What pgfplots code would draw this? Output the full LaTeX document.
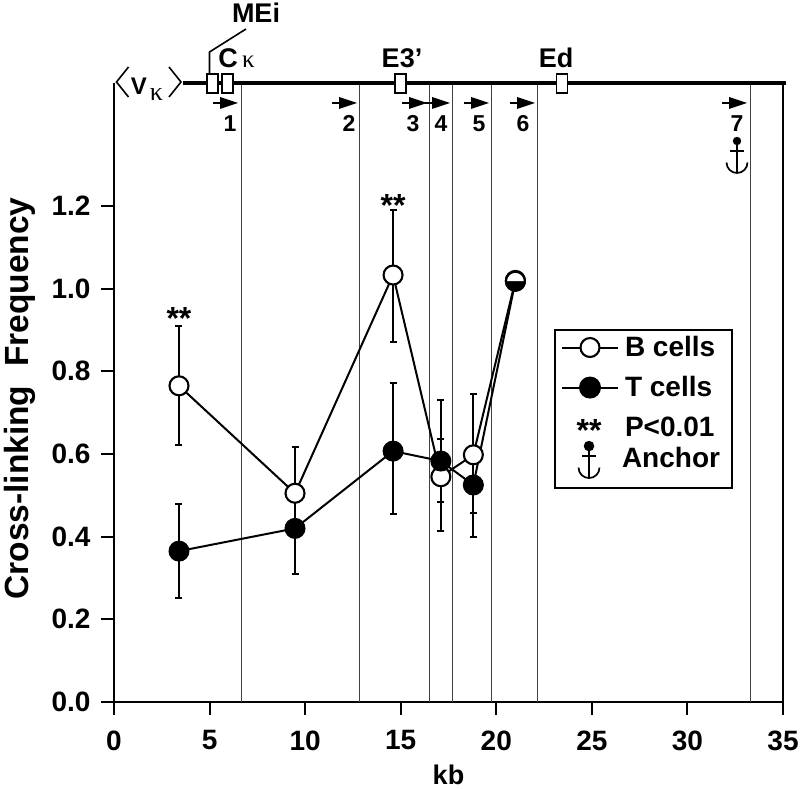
\documentclass[border=0pt]{standalone}
\usepackage{pgfplots}
\pgfplotsset{compat=1.18}
\usepackage{fontspec}
\setmainfont{Liberation Sans}
\newfontfamily\greek{Liberation Serif}
\newcommand\anchorsym[2]{% origin at dot centre; #1 = total drop, #2 = arc start
  \fill (0,0) circle (4.2pt);
  \draw[line width=1.7pt] (0,0) -- (0,-#1pt);
  \draw[line width=1.7pt] (-7pt,-10pt) -- (7pt,-10pt);
  \draw[line width=1.7pt] (-10.5pt,-#2pt) arc[start angle=180,end angle=360,radius=10.5pt];
}
\begin{document}
\begin{tikzpicture}[x=1pt,y=1pt,font=\bfseries]
\useasboundingbox (0,0) rectangle (800,789);
\begin{axis}[
  at={(114pt,87pt)},anchor=south west,
  scale only axis,width=669pt,height=619pt,
  xmin=0,xmax=35,ymin=0,ymax=1.4976,
  clip=false,
  axis x line*=bottom,
  axis y line*=left,
  axis line style={line width=2pt,-},
  tick style={line width=2pt,black},
  tick align=outside,
  major tick length=13pt,
  xtick={0,5,...,35},
  ytick={0,0.2,...,1.2},
  yticklabel style={/pgf/number format/fixed,/pgf/number format/fixed zerofill,/pgf/number format/precision=1,/pgf/number format/assume math mode=true,xshift=-7pt},
  xticklabel style={/pgf/number format/assume math mode=true,yshift=-12pt},
  tick label style={font=\fontsize{28}{28}\selectfont\bfseries},
  xlabel={kb},
  ylabel={Cross-linking\ \ Frequency},
  xlabel style={font=\fontsize{27}{27}\selectfont\bfseries,at={(axis cs:17.5,0)},anchor=north,yshift=-63pt,inner sep=0pt,text depth=0pt},
  ylabel style={font=\fontsize{33.5}{33.5}\selectfont\bfseries,at={(axis cs:0,0.734)},anchor=south,yshift=75pt},
  legend style={at={(axis cs:23.02,0.9025)},anchor=north west,draw=black,line width=2pt,
    font=\fontsize{28}{28}\selectfont\bfseries,inner xsep=6pt,inner ysep=7pt,
    row sep=18.5pt,
    nodes={inner xsep=6pt,inner ysep=0pt,text height=19pt,text depth=1pt,anchor=west}},
  legend cell align=left,
  legend columns=1,
]
% right axis
\addplot[black,line width=2pt,forget plot] coordinates {(35,0) (35,1.4976)};
% vertical lines
\addplot[black!75,line width=1.1pt,forget plot] coordinates {(6.65,0) (6.65,1.4976)};
\addplot[black!75,line width=1.1pt,forget plot] coordinates {(12.83,0) (12.83,1.4976)};
\addplot[black!75,line width=1.1pt,forget plot] coordinates {(16.5,0) (16.5,1.4976)};
\addplot[black!75,line width=1.1pt,forget plot] coordinates {(17.7,0) (17.7,1.4976)};
\addplot[black!75,line width=1.1pt,forget plot] coordinates {(19.75,0) (19.75,1.4976)};
\addplot[black!75,line width=1.1pt,forget plot] coordinates {(22.15,0) (22.15,1.4976)};
\addplot[black!75,line width=1.1pt,forget plot] coordinates {(33.3,0) (33.3,1.4976)};
% gene line
\addplot[black,line width=4.5pt,forget plot] coordinates {(3.62,1.4976) (35.15,1.4976)};
% error bars
\addplot[black,line width=2pt,forget plot,only marks,mark=none,
  error bars/.cd,y dir=both,y explicit,error bar style={line width=2pt},error mark options={rotate=90,mark size=3.5pt,line width=2pt}]
  coordinates {
  (3.4,0.765) += (0,0.145) -= (0,0.143)
  (9.47,0.505) += (0,0.112) -= (0,0.085)
  (14.6,1.033) += (0,0.157) -= (0,0.161)
  (17.1,0.545) += (0,0.091) -= (0,0.131)
  (18.8,0.598) += (0,0.147) -= (0,0.141)
  (3.4,0.365) += (0,0.113) -= (0,0.113)
  (9.47,0.42) += (0,0.09) -= (0,0.11)
  (14.6,0.607) += (0,0.165) -= (0,0.152)
  (17.1,0.583) += (0,0.148) -= (0,0.099)
  (18.8,0.525) += (0,0.095) -= (0,0.125)
  };
% series
\addplot[black,line width=2pt,mark=*,mark size=9.5pt,mark options={fill=white,line width=2.1pt},forget plot]
  coordinates {(3.4,0.765) (9.47,0.505) (14.6,1.033) (17.1,0.545) (18.8,0.598) (21,1.02)};
\addplot[black,line width=2pt,mark=*,mark size=10pt,mark options={fill=black,line width=1pt},forget plot]
  coordinates {(3.4,0.365) (9.47,0.42) (14.6,0.607) (17.1,0.583) (18.8,0.525) (21,1.018)};
% half-open marker at last point
\addplot[only marks,mark=halfcircle*,mark size=9.5pt,mark color=white,mark options={rotate=180,draw=black,fill=black,line width=2.1pt},forget plot] coordinates {(21,1.018)};
% legend
\addlegendimage{legend image code/.code={
  \draw[line width=2pt] (0,0) -- (56pt,0);
  \draw[line width=2.1pt,fill=white] (28pt,0) circle (9.5pt);}}
\addlegendentry{B cells}
\addlegendimage{legend image code/.code={
  \draw[line width=2pt] (0,0) -- (56pt,0);
  \fill (28pt,0) circle (10pt);}}
\addlegendentry{T cells}
\addlegendimage{legend image code/.code={
  \path[draw=none] (0,0) -- (56pt,0);
  \node[anchor=center,font=\fontsize{32}{32}\selectfont\bfseries,inner sep=0pt] at (27pt,-5pt) {**};}}
\addlegendentry{P<0.01}
\addlegendimage{legend image code/.code={
  \path[draw=none] (0,0) -- (56pt,0);
  \begin{scope}[overlay,shift={(27pt,24.5pt)}]\anchorsym{32}{21.5}\end{scope}}}
\addlegendentry{\hspace{-3pt}\raisebox{12.5pt}{Anchor}}
\end{axis}
% gene-map annotations, in picture pixels (y = 789 - image y)
\begin{scope}[shift={(0,789)},y=-1pt]
\tikzset{lab/.style={font=\fontsize{27}{27}\selectfont\bfseries,inner sep=0pt,anchor=base},
  num/.style={font=\fontsize{23}{23}\selectfont\bfseries,inner sep=0pt,anchor=base},
  gbox/.style={draw=black,fill=white,line width=1.8pt}}
\draw[line width=1.6pt] (209.5,74) -- (209.5,52) -- (246,29);
\foreach \x in {212.5,227.5,400.5,562}{\draw[gbox] (\x-5.5,74) rectangle (\x+5.5,93);}
\node[lab] at (256,23) {MEi};
\node[lab] at (228,68) {C};
\node[font=\fontsize{25}{25}\selectfont\greek,inner sep=0pt,anchor=base] at (248.5,68) {κ};
\node[lab] at (402,68) {E3'};
\node[lab] at (556,68) {Ed};
\draw[line width=1.6pt] (128.5,67) -- (116.5,82) -- (128.5,97);
\draw[line width=1.6pt] (169,67) -- (181,82) -- (169,97);
\node[font=\fontsize{24}{24}\selectfont\bfseries,inner sep=0pt,anchor=base] at (139,95) {V};
\node[font=\fontsize{26}{26}\selectfont\greek,inner sep=0pt,anchor=base] at (156.5,101) {κ};
\foreach \x in {238,357,427,450,489,535,747}{
  \draw[line width=1.8pt] (\x-25,103) -- (\x-10,103);
  \fill (\x,103) -- (\x-18,97) -- (\x-18,109) -- cycle;
}
\node[num] at (230,132) {1};
\node[num] at (349,132) {2};
\node[num] at (413,132) {3};
\node[num] at (441,132) {4};
\node[num] at (479,132) {5};
\node[num] at (523,132) {6};
\node[num] at (737,132) {7};
\end{scope}
\begin{scope}[shift={(737,648)}]
\anchorsym{32}{21.5}
\end{scope}
\node[font=\fontsize{32}{32}\selectfont\bfseries,inner sep=0pt,anchor=base] at (179,459) {**};
\node[font=\fontsize{32}{32}\selectfont\bfseries,inner sep=0pt,anchor=base] at (393,572) {**};
\end{tikzpicture}
\end{document}
